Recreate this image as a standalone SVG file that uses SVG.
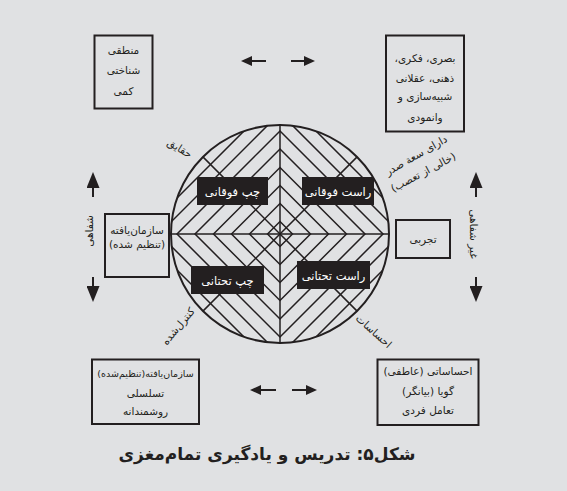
<svg xmlns="http://www.w3.org/2000/svg" width="567" height="491" viewBox="0 0 567 491">
<style>
text{font-family:"DejaVu Sans",sans-serif;direction:rtl;text-anchor:middle;fill:#231f20;font-size:10.5px}
.box{fill:none;stroke:#231f20;stroke-width:2}
.lab{fill:#231f20}
.lab-t{fill:#ffffff;font-size:11.5px}
.ln{stroke:#231f20;stroke-width:1.5;fill:none}
.arr{stroke:#231f20;stroke-width:2;fill:none}
.cap{font-size:17px;font-weight:bold}
.sm{font-size:9.5px}
</style>
<defs>
<clipPath id="cc"><circle cx="280" cy="234" r="109"/></clipPath>
<marker id="ah" viewBox="0 0 16 13" refX="1" refY="6.5" markerWidth="16" markerHeight="13" markerUnits="userSpaceOnUse" orient="auto"><path d="M0,0 L16,6.5 L0,13 Z" fill="#231f20"/></marker>
<marker id="ahs" viewBox="0 0 11 10" refX="1" refY="5" markerWidth="11" markerHeight="10" markerUnits="userSpaceOnUse" orient="auto"><path d="M0,0 L11,5 L0,10 Z" fill="#231f20"/></marker>
</defs>
<rect x="0" y="0" width="567" height="491" fill="#e0e1e3"/>

<g id="wheel">
<g clip-path="url(#cc)" class="ln">
<polygon points="280,221.5 292.5,234 280,246.5 267.5,234"/>
<polygon points="280,203.5 310.5,234 280,264.5 249.5,234"/>
<polygon points="280,185.5 328.5,234 280,282.5 231.5,234"/>
<polygon points="280,167.5 346.5,234 280,300.5 213.5,234"/>
<polygon points="280,149 365,234 280,319 195,234"/>
<polygon points="280,131 383,234 280,337 177,234"/>
<polygon points="280,113 401,234 280,355 159,234"/>
<polygon points="280,95 419,234 280,373 141,234"/>
</g>
<g class="ln">
<line x1="280" y1="125" x2="280" y2="343"/>
<line x1="171" y1="234" x2="389" y2="234"/>
<line x1="280" y1="234" x2="357.1" y2="156.9"/>
<line x1="280" y1="234" x2="202.9" y2="156.9"/>
<line x1="280" y1="234" x2="357.1" y2="311.1"/>
<line x1="280" y1="234" x2="202.9" y2="311.1"/>
</g>
<circle cx="280" cy="234" r="109" fill="none" stroke="#231f20" stroke-width="2"/>
</g>

<g id="q-lu"><rect class="lab" x="197" y="177" width="71" height="28"/><text class="lab-t" x="232.5" y="195.5">چپ فوقانی</text></g>
<g id="q-ru"><rect class="lab" x="302" y="177" width="72" height="28"/><text class="lab-t" x="338" y="195.5">راست فوقانی</text></g>
<g id="q-ll"><rect class="lab" x="191" y="266" width="73" height="28"/><text class="lab-t" x="227.5" y="284.5">چپ تحتانی</text></g>
<g id="q-rl"><rect class="lab" x="297" y="261" width="73" height="28"/><text class="lab-t" x="333.5" y="279.5">راست تحتانی</text></g>

<g id="n-tl"><rect class="box" x="94.5" y="35.5" width="58" height="73"/>
<text x="123.5" y="54">منطقی</text><text x="123.5" y="74">شناختی</text><text x="123.5" y="95">کمی</text></g>
<g id="n-tr"><rect class="box" x="386" y="35.5" width="78" height="96"/>
<text x="425" y="62">بصری، فکری،</text><text x="425" y="82">ذهنی، عقلانی</text><text x="425" y="100">شبیه‌سازی و</text><text x="425" y="121">وانمودی</text></g>
<g id="n-l"><rect class="box" x="105" y="214" width="64" height="63"/>
<text x="137" y="234">سازمان‌یافته</text><text x="137" y="248">(تنظیم شده)</text></g>
<g id="n-r"><rect class="box" x="396" y="220" width="54" height="38"/>
<text x="423" y="243">تجربی</text></g>
<g id="n-bl"><rect class="box" x="92" y="359.5" width="107" height="64.5"/>
<text class="sm" x="145.5" y="377">سازمان‌یافته(تنظیم‌شده)</text><text x="145.5" y="397">تسلسلی</text><text x="145.5" y="415">روشمندانه</text></g>
<g id="n-br"><rect class="box" x="377.5" y="359.5" width="101" height="65.5"/>
<text x="428" y="375">احساساتی (عاطفی)</text><text x="428" y="395">گویا (بیانگر)</text><text x="428" y="414">تعامل فردی</text></g>

<g id="diag-labels">
<text transform="translate(180,148) rotate(32)" y="4">حقایق</text>
<text transform="translate(416,155) rotate(-30)" y="4">دارای سعة صدر</text>
<text transform="translate(423,172) rotate(-28)" y="4">(خالی از تعصب)</text>
<text transform="translate(178,326) rotate(-50)" y="4">کنترل‌شده</text>
<text transform="translate(374,331) rotate(42)" y="4">احساسات</text>
<text transform="translate(89,231) rotate(-90)" y="4">شفاهی</text>
<text transform="translate(474,234) rotate(90)" y="4">غیر شفاهی</text>
</g>

<g id="connectors">
<line class="arr" x1="266" y1="61" x2="251" y2="61" marker-end="url(#ahs)"/>
<line class="arr" x1="291" y1="61" x2="305" y2="61" marker-end="url(#ahs)"/>
<line class="arr" x1="276" y1="390" x2="260" y2="390" marker-end="url(#ahs)"/>
<line class="arr" x1="292" y1="390" x2="307" y2="390" marker-end="url(#ahs)"/>
<line class="arr" x1="93" y1="197" x2="93" y2="187" marker-end="url(#ah)"/>
<line class="arr" x1="93" y1="277" x2="93" y2="287" marker-end="url(#ah)"/>
<line class="arr" x1="476" y1="197" x2="476" y2="187" marker-end="url(#ah)"/>
<line class="arr" x1="476" y1="277" x2="476" y2="287" marker-end="url(#ah)"/>
</g>

<text class="cap" x="267" y="460">شکل۵: تدریس و یادگیری تمام‌مغزی</text>
</svg>
